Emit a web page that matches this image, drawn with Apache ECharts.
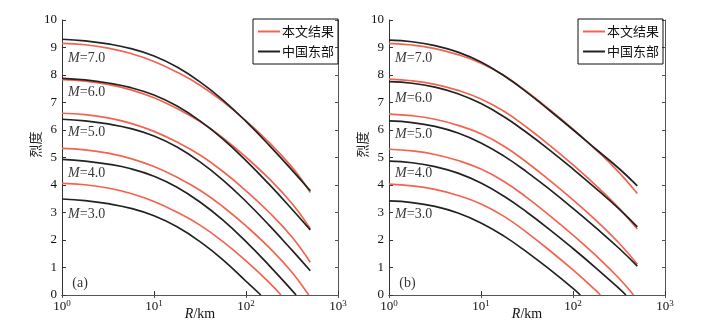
<!DOCTYPE html>
<html>
<head>
<meta charset="utf-8">
<script src="https://cdn.jsdelivr.net/npm/echarts@6/dist/echarts.min.js"></script>
<style>
  html, body { margin: 0; padding: 0; background: #fff; }
  #chart { width: 724px; height: 327px; }
</style>
</head>
<body>
<div id="chart"></div>
<script>
// epicentral distance (km), same sampling for every curve
const distKm = [1, 1.78, 3.16, 5.62, 10, 17.8, 31.6, 56.2, 100, 178, 316, 500];
const magLabels = ['3.0', '4.0', '5.0', '6.0', '7.0'];

// panel (a), rows M=3..7
const redA = [
  [4.06, 4.01, 3.89, 3.69, 3.40, 3.01, 2.54, 1.94, 1.24, 0.46],
  [5.33, 5.28, 5.16, 4.96, 4.67, 4.28, 3.81, 3.21, 2.51, 1.73, 0.83],
  [6.61, 6.56, 6.44, 6.24, 5.95, 5.56, 5.09, 4.49, 3.79, 3.01, 2.11, 1.19],
  [7.83, 7.78, 7.66, 7.46, 7.17, 6.78, 6.31, 5.71, 5.01, 4.23, 3.33, 2.41],
  [9.15, 9.10, 8.98, 8.78, 8.49, 8.10, 7.63, 7.03, 6.33, 5.55, 4.65, 3.73]
];
const redAZero = [240, 480, null, null, null];
const blackA = [
  [3.49, 3.43, 3.32, 3.15, 2.88, 2.48, 1.94, 1.28, 0.50],
  [4.93, 4.87, 4.76, 4.59, 4.32, 3.92, 3.38, 2.72, 1.94, 1.08, 0.17],
  [6.39, 6.33, 6.22, 6.05, 5.78, 5.38, 4.84, 4.18, 3.40, 2.54, 1.63, 0.88],
  [7.88, 7.82, 7.71, 7.54, 7.27, 6.87, 6.33, 5.67, 4.89, 4.03, 3.12, 2.37],
  [9.30, 9.24, 9.13, 8.96, 8.69, 8.29, 7.75, 7.09, 6.31, 5.45, 4.54, 3.79]
];
const blackAZero = [145, 350, null, null, null];

// panel (b), rows M=3..7
const redB = [
  [4.03, 3.97, 3.84, 3.62, 3.31, 2.86, 2.27, 1.61, 0.91, 0.16],
  [5.30, 5.24, 5.11, 4.89, 4.58, 4.13, 3.54, 2.88, 2.18, 1.43, 0.61],
  [6.58, 6.52, 6.39, 6.17, 5.86, 5.41, 4.82, 4.16, 3.46, 2.71, 1.89, 1.12],
  [7.85, 7.79, 7.66, 7.44, 7.13, 6.68, 6.09, 5.43, 4.73, 3.98, 3.16, 2.40],
  [9.15, 9.09, 8.96, 8.74, 8.43, 7.98, 7.39, 6.73, 6.03, 5.28, 4.46, 3.69]
];
const redBZero = [198, 455, null, null, null];
const blackB = [
  [3.42, 3.36, 3.22, 2.98, 2.62, 2.14, 1.56, 0.92, 0.24],
  [4.87, 4.81, 4.67, 4.43, 4.07, 3.59, 3.01, 2.37, 1.69, 0.98, 0.24],
  [6.33, 6.27, 6.13, 5.89, 5.53, 5.05, 4.47, 3.83, 3.15, 2.44, 1.70, 1.05],
  [7.76, 7.70, 7.56, 7.32, 6.96, 6.48, 5.90, 5.26, 4.58, 3.87, 3.13, 2.48],
  [9.27, 9.21, 9.07, 8.83, 8.47, 7.97, 7.37, 6.70, 6.01, 5.30, 4.60, 3.97]
];
const blackBZero = [120, 376, null, null, null];

// where the M labels sit (data coords)
const labelYA = [2.95, 4.42, 5.9, 7.36, 8.6];
const labelYB = [2.95, 4.42, 5.86, 7.16, 8.6];

const RED = '#f2644f';
const BLACK = '#222';
const serif = 'Liberation Serif';
const cjk = 'Noto Sans CJK SC';

function pts(row, zero) {
    let arr = row.map((v, i) => [distKm[i], v]);
    if (zero != null) arr.push([zero, 0]);
    return arr;
}

function curves(rows, zeros, name, color, xi, z) {
    return rows.map((row, k) => ({
        name: name,
        type: 'line',
        xAxisIndex: xi,
        yAxisIndex: xi,
        data: pts(row, zeros[k]),
        smooth: 0.45,
        showSymbol: false,
        z: z,
        lineStyle: { color: color, width: 1.7 },
        itemStyle: { color: color }
    }));
}

function labels(ys, xi, tag) {
    let data = ys.map((y, k) => ({ value: [1.08, y], txt: '{i|M}=' + magLabels[k] }));
    data.push({ value: [1.2, 0.44], txt: tag });
    return {
        type: 'scatter',
        xAxisIndex: xi,
        yAxisIndex: xi,
        symbolSize: 0,
        silent: true,
        z: 5,
        data: data,
        label: {
            show: true,
            position: 'right',
            distance: 3,
            color: '#000',
            fontFamily: serif,
            fontSize: 14,
            formatter: p => p.data.txt,
            rich: { i: { fontStyle: 'italic', fontFamily: serif, fontSize: 14, color: '#000' } }
        }
    };
}

function xAxes(gi) {
    return [
        {
            type: 'log', logBase: 10, min: 1, max: 1000, gridIndex: gi,
            name: '{i|R}/km', nameLocation: 'middle', nameGap: 12, nameMoveOverlap: false,
            nameTextStyle: {
                fontFamily: serif, fontSize: 14, color: '#111',
                rich: { i: { fontStyle: 'italic', fontFamily: serif, fontSize: 14, color: '#111' } }
            },
            axisLine: { lineStyle: { color: '#333', width: 1 } },
            axisTick: { inside: true, length: 4, lineStyle: { color: '#333' } },
            minorTick: { show: false },
            splitLine: { show: false },
            axisLabel: {
                margin: 4, color: '#111', fontFamily: serif, fontSize: 13,
                formatter: v => '{b|10}{s|' + Math.round(Math.log10(v)) + '}',
                rich: {
                    b: { fontFamily: serif, fontSize: 13, color: '#111' },
                    s: { fontFamily: serif, fontSize: 9, color: '#111', verticalAlign: 'top', padding: [0, 0, 6, 0] }
                }
            }
        },
        {
            type: 'log', logBase: 10, min: 1, max: 1000, gridIndex: gi, position: 'top',
            axisLine: { lineStyle: { color: '#555', width: 1 } },
            axisTick: { inside: true, length: 3, lineStyle: { color: '#555' } },
            axisLabel: { show: false },
            splitLine: { show: false }
        }
    ];
}

function yAxes(gi) {
    return [
        {
            type: 'value', min: 0, max: 10, interval: 1, gridIndex: gi,
            name: '烈度', nameLocation: 'middle', nameGap: 20, nameRotate: 90, nameMoveOverlap: false,
            nameTextStyle: { fontFamily: cjk, fontSize: 13, color: '#222', padding: [0, 0, 0, 26] },
            axisLine: { lineStyle: { color: '#333', width: 1 } },
            axisTick: { inside: true, length: 4, lineStyle: { color: '#333' } },
            splitLine: { show: false },
            axisLabel: { margin: 5, color: '#111', fontFamily: serif, fontSize: 13 }
        },
        {
            type: 'value', min: 0, max: 10, interval: 1, gridIndex: gi, position: 'right',
            axisLine: { show: true, lineStyle: { color: '#555', width: 1 } },
            axisTick: { inside: true, length: 3, lineStyle: { color: '#555' } },
            axisLabel: { show: false },
            splitLine: { show: false }
        }
    ];
}

function legendAt(left) {
    return {
        data: ['本文结果', '中国东部'],
        orient: 'vertical',
        left: left,
        top: 19,
        borderColor: '#111',
        borderWidth: 1,
        borderRadius: 0,
        padding: [6, 4, 6, 5],
        itemGap: 7,
        itemWidth: 22,
        itemHeight: 2,
        icon: 'rect',
        selectedMode: false,
        textStyle: { fontFamily: cjk, fontSize: 13, color: '#111', padding: [0, 0, 0, -3] }
    };
}

let option = {
    animation: false,
    backgroundColor: '#fff',
    grid: [
        { left: 62, top: 20, width: 276, height: 275, outerBoundsMode: 'none' },
        { left: 389, top: 20, width: 276, height: 275, outerBoundsMode: 'none' }
    ],
    legend: [legendAt(253), legendAt(578)],
    xAxis: xAxes(0).concat(xAxes(1)),
    yAxis: yAxes(0).concat(yAxes(1)),
    series: [].concat(
        curves(redA, redAZero, '本文结果', RED, 0, 2),
        curves(blackA, blackAZero, '中国东部', BLACK, 0, 3),
        curves(redB, redBZero, '本文结果', RED, 2, 2),
        curves(blackB, blackBZero, '中国东部', BLACK, 2, 3),
        [labels(labelYA, 0, '(a)'), labels(labelYB, 2, '(b)')]
    )
};

let myChart = echarts.init(document.getElementById('chart'));
myChart.setOption(option);
</script>
</body>
</html>
